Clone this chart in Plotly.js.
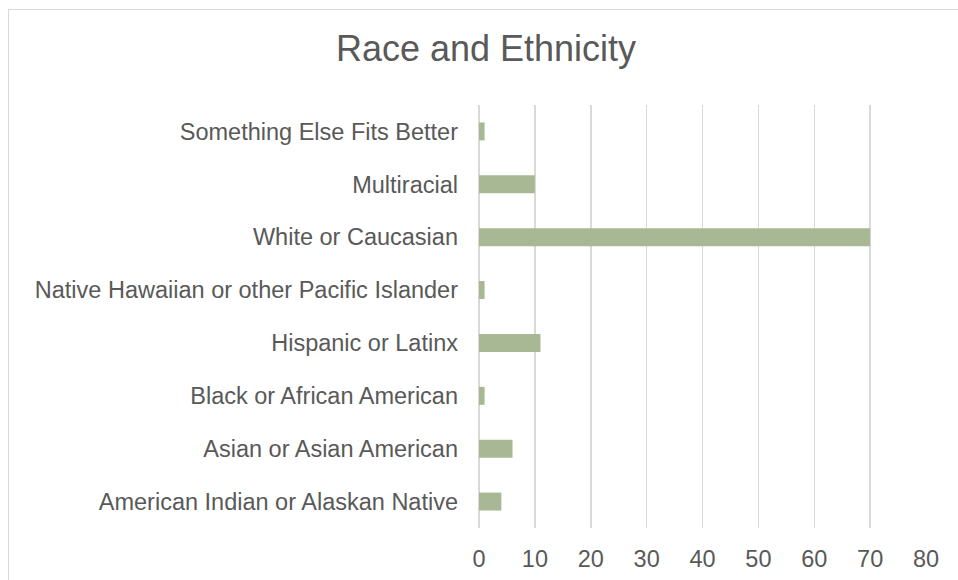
<!DOCTYPE html>
<html>
<head>
<meta charset="utf-8">
<script src="https://cdn.plot.ly/plotly-3.0.1.min.js"></script>
<style>
  html, body { margin: 0; padding: 0; background: #ffffff; overflow: hidden; }
  #frame { position: absolute; left: 8px; top: 9px; width: 1200px; height: 1200px;
           border: 1px solid #D9D9D9; box-sizing: border-box; pointer-events: none; }
  #chart { position: absolute; left: 0; top: 0; width: 958px; height: 580px; }
</style>
</head>
<body>
<div id="frame"></div>
<div id="chart"></div>
<script>
const categories = [
  "American Indian or Alaskan Native",
  "Asian or Asian American",
  "Black or African American",
  "Hispanic or Latinx",
  "Native Hawaiian or other Pacific Islander",
  "White or Caucasian",
  "Multiracial",
  "Something Else Fits Better"
];
const counts = [4, 6, 1, 11, 1, 70, 10, 1];
const xTicks = [0, 10, 20, 30, 40, 50, 60, 70, 80];
const chartTitle = "Race and Ethnicity";

const textColor = "#595959";
const fontFamily = "Liberation Sans, Arial, sans-serif";

const trace = {
  type: "bar",
  orientation: "h",
  y: categories,
  x: counts,
  marker: { color: "#A9B894", line: { width: 0 } },
  hoverinfo: "x+y"
};

const layout = {
  width: 958,
  height: 580,
  paper_bgcolor: "rgba(0,0,0,0)",
  plot_bgcolor: "rgba(0,0,0,0)",
  margin: { l: 479, r: 32, t: 104.5, b: 51.5, pad: 0 },
  bargap: 0.66,
  showlegend: false,
  font: { family: fontFamily, color: textColor, size: 23.5 },
  title: {
    text: chartTitle,
    font: { family: fontFamily, color: textColor, size: 36 },
    x: 486 / 958, xref: "container", xanchor: "center",
    y: 1 - 48 / 580, yref: "container", yanchor: "middle"
  },
  xaxis: {
    range: [0, 80],
    tickvals: xTicks,
    ticktext: xTicks.map(String),
    showgrid: true,
    gridcolor: "#D9D9D9",
    gridwidth: 1.5,
    zeroline: true,
    zerolinecolor: "#D9D9D9",
    zerolinewidth: 1.5,
    showline: false,
    ticks: "",
    ticklabelstandoff: 14,
    tickfont: { family: fontFamily, color: textColor, size: 23.5 },
    fixedrange: true
  },
  yaxis: {
    type: "category",
    categoryorder: "array",
    categoryarray: categories,
    showgrid: false,
    zeroline: false,
    showline: false,
    ticks: "",
    ticklabelstandoff: 20,
    tickfont: { family: fontFamily, color: textColor, size: 23.5 },
    fixedrange: true
  }
};

Plotly.newPlot("chart", [trace], layout, { displayModeBar: false, staticPlot: true });
</script>
</body>
</html>
